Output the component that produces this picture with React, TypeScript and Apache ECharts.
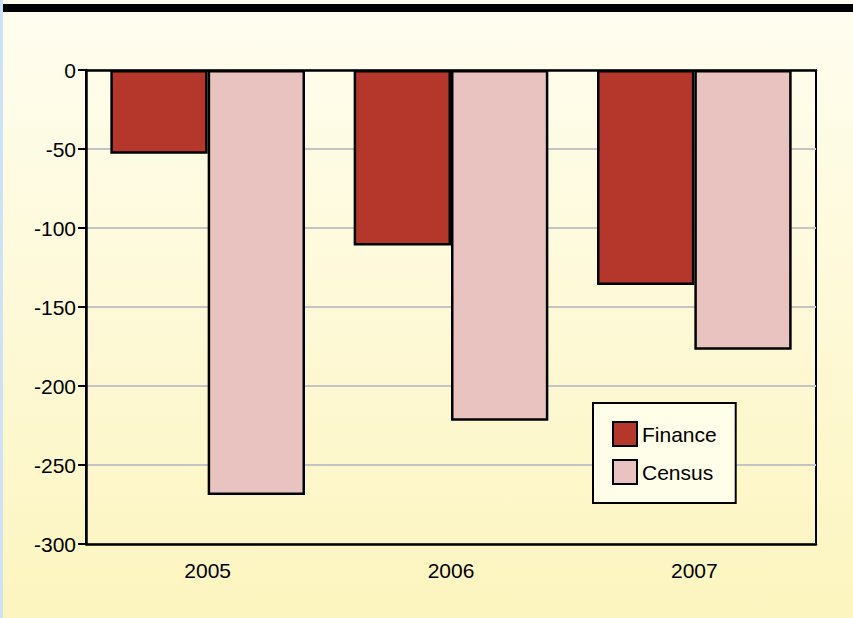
import React, { useEffect, useRef } from "react";
import * as echarts from "echarts";

const categories = ["2005", "2006", "2007"];
const financeValues = [-53, -111, -136];
const censusValues = [-269, -222, -177];
const seriesNames = ["Finance", "Census"];

export default function App() {
  const ref = useRef<HTMLDivElement>(null);
  useEffect(() => {
    if (!ref.current) return;
    const chart = echarts.init(ref.current, null, { renderer: "svg" });
    const font = "'Liberation Sans', Arial, Helvetica, sans-serif";
    chart.setOption({
      animation: false,
      backgroundColor: {
        type: "linear",
        x: 0,
        y: 0,
        x2: 0,
        y2: 1,
        colorStops: [
          { offset: 0, color: "#fffdf0" },
          { offset: 1, color: "#fcf5bf" },
        ],
      },
      graphic: [
        { type: "rect", left: 0, top: 0, shape: { width: 3, height: 618 }, style: { fill: "#cde2f4" } },
        { type: "rect", left: 3, top: 4, shape: { width: 850, height: 8 }, style: { fill: "#000" } },
      ],
      grid: {
        left: 86,
        right: 37,
        top: 70,
        bottom: 74,
        show: true,
        borderColor: "#000",
        borderWidth: 2,
        backgroundColor: "transparent",
      },
      legend: {
        orient: "vertical",
        left: 593,
        top: 403,
        padding: [18, 19, 18, 19],
        itemWidth: 24,
        itemHeight: 24,
        itemGap: 12,
        borderColor: "#000",
        borderWidth: 2,
        backgroundColor: "#fffee9",
        icon: "rect",
        textStyle: { fontSize: 21, color: "#000", fontFamily: font },
        data: seriesNames,
      },
      xAxis: [
        {
          type: "category",
          data: categories,
          axisLine: { onZero: false, lineStyle: { color: "#000", width: 2.5 } },
          axisTick: { show: false },
          axisLabel: { fontSize: 21, color: "#000", fontFamily: font, margin: 16 },
          splitLine: { show: false },
          z: 5,
        },
        {
          type: "category",
          data: categories,
          position: "top",
          axisLine: { onZero: false, lineStyle: { color: "#000", width: 2.5 } },
          axisTick: { show: false },
          axisLabel: { show: false },
          splitLine: { show: false },
          z: 5,
        },
      ],
      yAxis: {
        type: "value",
        min: -300,
        max: 0,
        interval: 50,
        axisLine: { show: true, lineStyle: { color: "#000", width: 2.5 } },
        axisTick: { show: true, length: 8, lineStyle: { color: "#000", width: 2 } },
        axisLabel: { fontSize: 21, color: "#000", fontFamily: font, margin: 10 },
        splitLine: { show: true, lineStyle: { color: "#c4c4c4", width: 2 } },
      },
      series: [
        {
          name: seriesNames[0],
          type: "bar",
          data: financeValues,
          barWidth: "40%",
          barGap: "0%",
          itemStyle: { color: "#b5372b", borderColor: "#000", borderWidth: 2.5 },
        },
        {
          name: seriesNames[1],
          type: "bar",
          data: censusValues,
          barWidth: "40%",
          barGap: "0%",
          itemStyle: { color: "#e9c3c0", borderColor: "#000", borderWidth: 2.5 },
        },
      ],
    });
    return () => chart.dispose();
  }, []);
  return (
    <div
      ref={ref}
      style={{ position: "fixed", left: 0, top: 0, width: 853, height: 618 }}
    />
  );
}
